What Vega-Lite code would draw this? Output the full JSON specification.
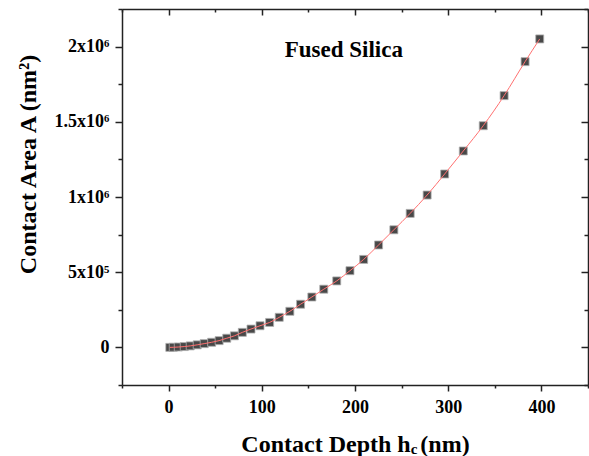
{
  "$schema": "https://vega.github.io/schema/vega-lite/v6.json",
  "autosize": {"type": "none"},
  "padding": {"left": 122, "top": 9, "right": 1, "bottom": 71},
  "width": 466,
  "height": 376,
  "background": "white",
  "config": {
    "view": {"stroke": null},
    "axis": {
      "grid": false,
      "domainColor": "#222222",
      "domainWidth": 1.5,
      "tickColor": "#222222",
      "tickWidth": 1.5,
      "labelFont": "Liberation Serif",
      "labelFontWeight": "bold",
      "labelFontSize": 18,
      "labelColor": "#000000",
      "titleFont": "Liberation Serif",
      "titleFontWeight": "bold",
      "titleFontSize": 24,
      "titleColor": "#000000"
    }
  },
  "data": {
    "values": [
      {"h": 1.3, "A": 100},
      {"h": 5.0, "A": 800},
      {"h": 10.4, "A": 2500},
      {"h": 16.8, "A": 5500},
      {"h": 23.2, "A": 10000},
      {"h": 30.7, "A": 17000},
      {"h": 38.2, "A": 25000},
      {"h": 46.2, "A": 34000},
      {"h": 54.2, "A": 45000},
      {"h": 62.4, "A": 61000},
      {"h": 70.6, "A": 77000},
      {"h": 79.1, "A": 100000},
      {"h": 88.4, "A": 122000},
      {"h": 98.1, "A": 144000},
      {"h": 108.4, "A": 166000},
      {"h": 118.7, "A": 200000},
      {"h": 130.1, "A": 240000},
      {"h": 141.6, "A": 287000},
      {"h": 153.7, "A": 335000},
      {"h": 166.5, "A": 387000},
      {"h": 180.4, "A": 442000},
      {"h": 194.6, "A": 510000},
      {"h": 209.3, "A": 585000},
      {"h": 225.3, "A": 681000},
      {"h": 241.7, "A": 782000},
      {"h": 259.2, "A": 891000},
      {"h": 277.4, "A": 1013000},
      {"h": 296.2, "A": 1153000},
      {"h": 316.2, "A": 1306000},
      {"h": 337.6, "A": 1474000},
      {"h": 360.0, "A": 1674000},
      {"h": 382.5, "A": 1900000},
      {"h": 398.2, "A": 2051000}
    ]
  },
  "layer": [
    {
      "mark": {"type": "square", "size": 64, "filled": true, "color": "#484848", "stroke": "#b0b0b0", "strokeWidth": 0.8, "opacity": 1},
      "encoding": {
        "x": {"field": "h", "type": "quantitative", "scale": {"domain": [-50, 450], "nice": false, "zero": false},
          "axis": {"orient": "bottom", "values": [0, 100, 200, 300, 400], "tickSize": 6, "labelPadding": 7, "title": "Contact Depth h\u2009\u2009(nm)", "titlePadding": 16}},
        "y": {"field": "A", "type": "quantitative", "scale": {"domain": [-250000, 2250000], "nice": false, "zero": false},
          "axis": {"orient": "left", "values": [0, 500000, 1000000, 1500000, 2000000], "tickSize": 7, "labelPadding": 6,
            "labelExpr": "datum.value == 0 ? '0' : datum.value == 500000 ? '5x10⁵' : datum.value == 1000000 ? '1x10⁶' : datum.value == 1500000 ? '1.5x10⁶' : '2x10⁶'",
            "title": "Contact Area A (nm²)", "titlePadding": 14, "titleY": 155}}
      }
    },
    {
      "mark": {"type": "line", "color": "#ff7070", "strokeWidth": 1, "interpolate": "monotone"},
      "encoding": {
        "x": {"field": "h", "type": "quantitative", "scale": {"domain": [-50, 450], "nice": false, "zero": false},
          "axis": {"orient": "top", "values": [0, 100, 200, 300, 400], "tickSize": -6, "labels": false, "title": null}},
        "y": {"field": "A", "type": "quantitative", "scale": {"domain": [-250000, 2250000], "nice": false, "zero": false},
          "axis": {"orient": "right", "values": [0, 500000, 1000000, 1500000, 2000000], "tickSize": -7, "labels": false, "title": null}}
      }
    },
    {
      "mark": {"type": "point", "opacity": 0},
      "encoding": {
        "x": {"field": "h", "type": "quantitative", "scale": {"domain": [-50, 450], "nice": false, "zero": false},
          "axis": {"orient": "bottom", "values": [-50, 50, 150, 250, 350, 450], "tickSize": 3, "labels": false, "domain": false, "title": null}},
        "y": {"field": "A", "type": "quantitative", "scale": {"domain": [-250000, 2250000], "nice": false, "zero": false},
          "axis": {"orient": "left", "values": [-250000, 250000, 750000, 1250000, 1750000, 2250000], "tickSize": 4, "labels": false, "domain": false, "title": null}}
      }
    },
    {
      "mark": {"type": "point", "opacity": 0},
      "encoding": {
        "x": {"field": "h", "type": "quantitative", "scale": {"domain": [-50, 450], "nice": false, "zero": false},
          "axis": {"orient": "top", "values": [-50, 50, 150, 250, 350, 450], "tickSize": -3, "labels": false, "domain": false, "title": null}},
        "y": {"field": "A", "type": "quantitative", "scale": {"domain": [-250000, 2250000], "nice": false, "zero": false},
          "axis": {"orient": "right", "values": [-250000, 250000, 750000, 1250000, 1750000, 2250000], "tickSize": -4, "labels": false, "domain": false, "title": null}}
      }
    },
    {
      "data": {"values": [{"label": "Fused Silica", "h": 188, "A": 1931000}]},
      "mark": {"type": "text", "font": "Liberation Serif", "fontWeight": "bold", "fontSize": 23, "align": "center", "baseline": "alphabetic", "color": "#000000"},
      "encoding": {
        "text": {"field": "label"},
        "x": {"field": "h", "type": "quantitative", "axis": null},
        "y": {"field": "A", "type": "quantitative", "axis": null}
      }
    },
    {
      "data": {"values": [{"label": "c", "h": 259.8, "A": -710000}]},
      "mark": {"type": "text", "font": "Liberation Serif", "fontWeight": "bold", "fontSize": 15, "align": "left", "baseline": "alphabetic", "color": "#000000", "clip": false},
      "encoding": {
        "text": {"field": "label"},
        "x": {"field": "h", "type": "quantitative", "axis": null},
        "y": {"field": "A", "type": "quantitative", "axis": null}
      }
    }
  ],
  "resolve": {"axis": {"x": "independent", "y": "independent"}}
}
